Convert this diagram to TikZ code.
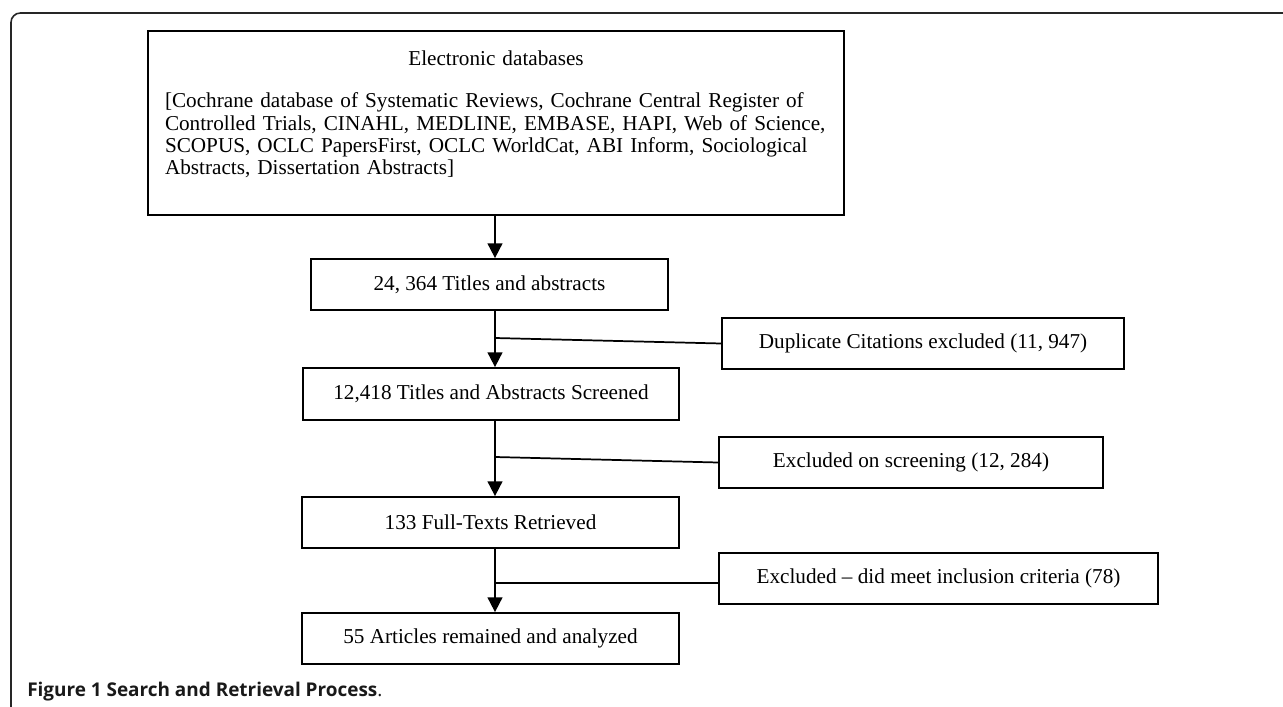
\documentclass[tikz,border=0pt]{standalone}
\usepackage{fontspec}
\setmainfont{Liberation Serif}
\newfontfamily\capfont{Open Sans}
\usetikzlibrary{arrows.meta}
\begin{document}
\begin{tikzpicture}[x=0.75pt,y=-0.75pt,
  txt/.style={font=\fontsize{15.9}{16.7}\selectfont},
  box/.style={draw=black, line width=1.3pt, minimum height=38.25pt, inner sep=0pt, txt},
  conn/.style={line width=1.3pt},
  arr/.style={conn, -{Triangle[length=11pt,width=11pt]}}]
\useasboundingbox (0,0) rectangle (1283,707);
\fill[white] (0,0) rectangle (1283,707);
\draw[line width=1.2pt, rounded corners=7pt, black!85] (11,720) -- (11,13) -- (1295,13);

\node[box, minimum width=522pt, minimum height=138pt, text width=496.5pt, align=left] (db) at (496,123)
 {\makebox[496.5pt]{Electronic databases}\\[15.5pt]
  [Cochrane database of Systematic Reviews, Cochrane Central Register of\\
  Controlled Trials, CINAHL, MEDLINE, EMBASE, HAPI, Web of Science,\\
  SCOPUS, OCLC PapersFirst, OCLC WorldCat, ABI Inform, Sociological\\
  Abstracts, Dissertation Abstracts]\\[-1pt]\mbox{}};

\node[box, minimum width=267.75pt] (b1) at (489.5,284.5) {24, 364 Titles and abstracts};
\node[box, minimum width=282pt, minimum height=39pt] (b2) at (491,394) {12,418 Titles and Abstracts Screened};
\node[box, minimum width=282.75pt] (b3) at (490.5,522.5) {133 Full-Texts Retrieved};
\node[box, minimum width=282.75pt] (b4) at (490.5,638.5) {55 Articles remained and analyzed};

\node[box, minimum width=301.5pt] (e1) at (923,343.5) {Duplicate Citations excluded (11, 947)};
\node[box, minimum width=288pt] (e2) at (911,462.5) {Excluded on screening (12, 284)};
\node[box, minimum width=329.25pt] (e3) at (938.5,578.5) {Excluded -- did meet inclusion criteria (78)};

\coordinate (ax) at (495,0);
\draw[arr] (db.south -| ax) -- (b1.north -| ax);
\draw[arr] (b1.south -| ax) -- (b2.north -| ax);
\draw[arr] (b2.south -| ax) -- (b3.north -| ax);
\draw[arr] (b3.south -| ax) -- (b4.north -| ax);

\coordinate (j1) at (495,338);
\coordinate (j2) at (495,457);
\coordinate (j3) at (495,583);
\draw[conn] (j1) -- (e1.west);
\draw[conn] (j2) -- (e2.west);
\draw[conn] (j3) -- (j3 -| e3.west);

\node[anchor=base west, inner sep=0pt, text=black!90, font=\capfont\bfseries\fontsize{14.2}{15}\selectfont] (cap) at (27,696)
 {Figure 1 Search and Retrieval Process{\mdseries.}};
\end{tikzpicture}
\end{document}
